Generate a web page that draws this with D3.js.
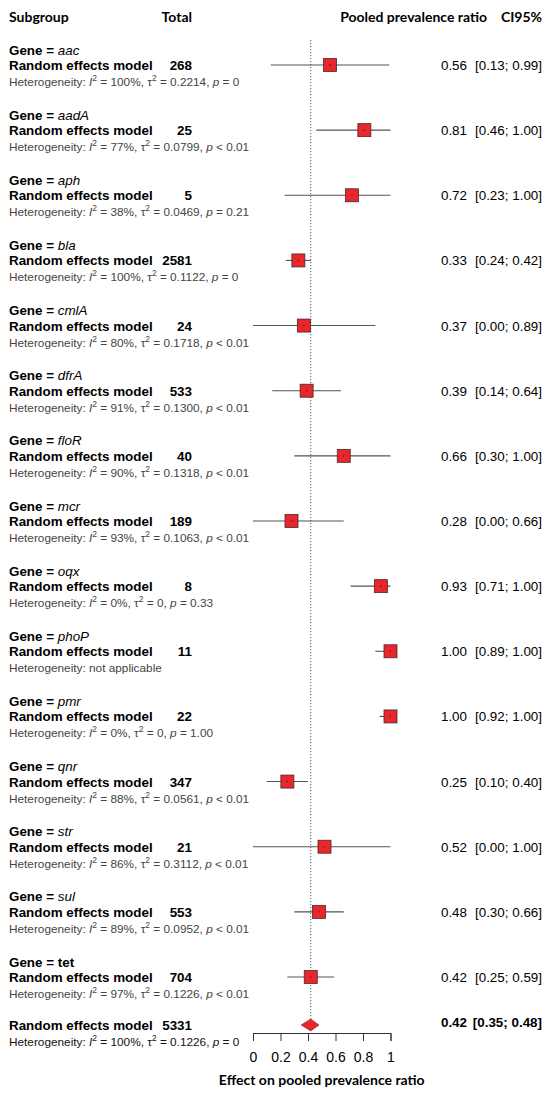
<!DOCTYPE html>
<html>
<head>
<meta charset="utf-8">
<script src="https://cdn.jsdelivr.net/npm/d3@7"></script>
<style>
    body { margin: 0; background: #fff; }
    svg { display: block; }
</style>
</head>
<body>
<svg id="forest" width="550" height="1097"></svg>
<script>
"use strict";

// subgroup data
const genes = ["aac", "aadA", "aph", "bla", "cmlA", "dfrA", "floR", "mcr", "oqx", "phoP", "pmr", "qnr", "str", "sul", "tet"];
const italicGene = [true, true, true, true, true, true, true, true, true, true, true, true, true, true, false];
const totals = [268, 25, 5, 2581, 24, 533, 40, 189, 8, 11, 22, 347, 21, 553, 704];
const estimates = [0.56, 0.81, 0.72, 0.33, 0.37, 0.39, 0.66, 0.28, 0.93, 1.00, 1.00, 0.25, 0.52, 0.48, 0.42];
const lowers = [0.13, 0.46, 0.23, 0.24, 0.00, 0.14, 0.30, 0.00, 0.71, 0.89, 0.92, 0.10, 0.00, 0.30, 0.25];
const uppers = [0.99, 1.00, 1.00, 0.42, 0.89, 0.64, 1.00, 0.66, 1.00, 1.00, 1.00, 0.40, 1.00, 0.66, 0.59];
const i2s = ["100%", "77%", "38%", "100%", "80%", "91%", "90%", "93%", "0%", null, "0%", "88%", "86%", "89%", "97%"];
const tau2s = ["0.2214", "0.0799", "0.0469", "0.1122", "0.1718", "0.1300", "0.1318", "0.1063", "0", null, "0", "0.0561", "0.3112", "0.0952", "0.1226"];
const pvals = ["= 0", "< 0.01", "= 0.21", "= 0", "< 0.01", "< 0.01", "< 0.01", "< 0.01", "= 0.33", null, "= 1.00", "< 0.01", "< 0.01", "< 0.01", "< 0.01"];

// pooled result
const overallTotal = 5331;
const overallCI = [0.42, 0.35, 0.48];
const overallHet = ["100%", "0.1226", "= 0"];

const axisTicks = [0, 0.2, 0.4, 0.6, 0.8, 1];

const SVG = d3.select("#forest");
const ARIAL = "Arial, \"Liberation Sans\", Helvetica, sans-serif";
const HEAD = "Lato, \"Open Sans\", sans-serif";

const x = d3.scaleLinear().domain([0, 1]).range([253, 390.5]);
const y = d3.scalePoint().domain(genes).range([50, 962]);
const fmt = d3.format(".2f");

// headers
const headers = [
    { t: "Subgroup", x: 9, a: "start" },
    { t: "Total", x: 192, a: "end" },
    { t: "Pooled prevalence ratio", x: 487, a: "end" },
    { t: "CI95%", x: 542, a: "end" }
];
SVG.selectAll(".header").data(headers).enter()
    .append("text")
    .attr("class", "header")
    .attr("x", d => d.x)
    .attr("y", 22)
    .attr("text-anchor", d => d.a)
    .style("font-family", HEAD)
    .style("font-weight", "bold")
    .style("font-size", "14px")
    .text(d => d.t);

// reference line at pooled estimate
SVG.append("line")
    .attr("x1", x(overallCI[0])).attr("x2", x(overallCI[0]))
    .attr("y1", 40).attr("y2", 1019)
    .style("stroke", "#555")
    .style("stroke-width", 1)
    .style("stroke-dasharray", "1.2,1.8");

// heterogeneity line builder
const hetText = (sel, i2, tau2, p) => {
    sel.append("tspan").text("Heterogeneity: ");
    if (i2 === null) {
        sel.append("tspan").text("not applicable");
        return;
    }
    sel.append("tspan").style("font-style", "italic").text("I");
    sel.append("tspan").attr("dy", -5).style("font-size", "8.5px").text("2");
    sel.append("tspan").attr("dy", 5).text(" = " + i2 + ", \u03c4");
    sel.append("tspan").attr("dy", -5).style("font-size", "8.5px").text("2");
    sel.append("tspan").attr("dy", 5).text(" = " + tau2 + ", ");
    sel.append("tspan").style("font-style", "italic").text("p");
    sel.append("tspan").text(" " + p);
};

// subgroups
const group = SVG.selectAll(".group").data(genes).enter()
    .append("g")
    .attr("class", "group")
    .attr("transform", d => "translate(0," + y(d) + ")");

group.each(function (g, i) {
    const G = d3.select(this);
    const lbl = G.append("text")
        .attr("x", 9).attr("y", 4.5)
        .style("font-family", ARIAL)
        .style("font-size", "13.4px")
        .style("font-weight", "bold");
    lbl.append("tspan").text("Gene = ");
    lbl.append("tspan")
        .style("font-style", italicGene[i] ? "italic" : "normal")
        .style("font-weight", italicGene[i] ? "normal" : "bold")
        .text(g);

    G.append("text")
        .attr("x", 9).attr("y", 20)
        .style("font-family", ARIAL)
        .style("font-size", "13.4px")
        .style("font-weight", "bold")
        .text("Random effects model");
    G.append("text")
        .attr("x", 192).attr("y", 20)
        .attr("text-anchor", "end")
        .style("font-family", ARIAL)
        .style("font-size", "13.4px")
        .style("font-weight", "bold")
        .text(totals[i]);

    const het = G.append("text")
        .attr("x", 9).attr("y", 36)
        .style("font-family", ARIAL)
        .style("font-size", "11.8px")
        .style("fill", "#444");
    hetText(het, i2s[i], tau2s[i], pvals[i]);

    // CI line + square
    G.append("line")
        .attr("x1", x(lowers[i])).attr("x2", x(uppers[i]))
        .attr("y1", 15).attr("y2", 15)
        .style("stroke", "#555")
        .style("stroke-width", 1.1);
    G.append("rect")
        .attr("x", x(estimates[i]) - 6.5).attr("y", 15 - 6.5)
        .attr("width", 13).attr("height", 13)
        .style("fill", "#e8262c")
        .style("stroke", "#4a2a2a")
        .style("stroke-width", 0.8);
    G.append("circle")
        .attr("cx", x(estimates[i])).attr("cy", 15).attr("r", 0.8)
        .style("fill", "#333");

    // effect + CI text
    G.append("text")
        .attr("x", 467).attr("y", 20)
        .attr("text-anchor", "end")
        .style("font-family", ARIAL)
        .style("font-size", "13.4px")
        .text(fmt(estimates[i]));
    G.append("text")
        .attr("x", 542).attr("y", 20)
        .attr("text-anchor", "end")
        .style("font-family", ARIAL)
        .style("font-size", "13.4px")
        .text("[" + fmt(lowers[i]) + "; " + fmt(uppers[i]) + "]");
});

// overall row
const oy = 1025;
SVG.append("text")
    .attr("x", 9).attr("y", oy + 4.5)
    .style("font-family", ARIAL)
    .style("font-size", "13.4px")
    .style("font-weight", "bold")
    .text("Random effects model");
SVG.append("text")
    .attr("x", 192).attr("y", oy + 4.5)
    .attr("text-anchor", "end")
    .style("font-family", ARIAL)
    .style("font-size", "13.4px")
    .style("font-weight", "bold")
    .text(overallTotal);
const ohet = SVG.append("text")
    .attr("x", 9).attr("y", 1046)
    .style("font-family", ARIAL)
    .style("font-size", "11.8px")
    .style("fill", "#111");
hetText(ohet, overallHet[0], overallHet[1], overallHet[2]);

SVG.append("path")
    .attr("d", d3.line()([
        [x(overallCI[1]), oy],
        [x(overallCI[0]), oy - 6],
        [x(overallCI[2]), oy],
        [x(overallCI[0]), oy + 6]
    ]) + "Z")
    .style("fill", "#e8262c")
    .style("stroke", "#8a2020")
    .style("stroke-width", 0.6);

SVG.append("text")
    .attr("x", 467).attr("y", oy + 2)
    .attr("text-anchor", "end")
    .style("font-family", ARIAL)
    .style("font-size", "13.4px")
    .style("font-weight", "bold")
    .text(fmt(overallCI[0]));
SVG.append("text")
    .attr("x", 542).attr("y", oy + 2)
    .attr("text-anchor", "end")
    .style("font-family", ARIAL)
    .style("font-size", "13.4px")
    .style("font-weight", "bold")
    .text("[" + fmt(overallCI[1]) + "; " + fmt(overallCI[2]) + "]");

// axis
const axis = SVG.append("g")
    .attr("transform", "translate(0,1033)")
    .call(d3.axisBottom(x).tickValues(axisTicks).tickFormat(d3.format("")).tickSizeOuter(0).tickSize(8).tickPadding(11));
axis.select(".domain").style("stroke", "#333");
axis.selectAll(".tick line").style("stroke", "#333");
axis.selectAll(".tick text")
    .style("font-family", ARIAL)
    .style("font-size", "14px")
    .style("fill", "#000");

SVG.append("text")
    .attr("x", (x(0) + x(1)) / 2)
    .attr("y", 1085)
    .attr("text-anchor", "middle")
    .style("font-family", HEAD)
    .style("font-weight", "bold")
    .style("font-size", "14px")
    .text("Effect on pooled prevalence ratio");
</script>
</body>
</html>
